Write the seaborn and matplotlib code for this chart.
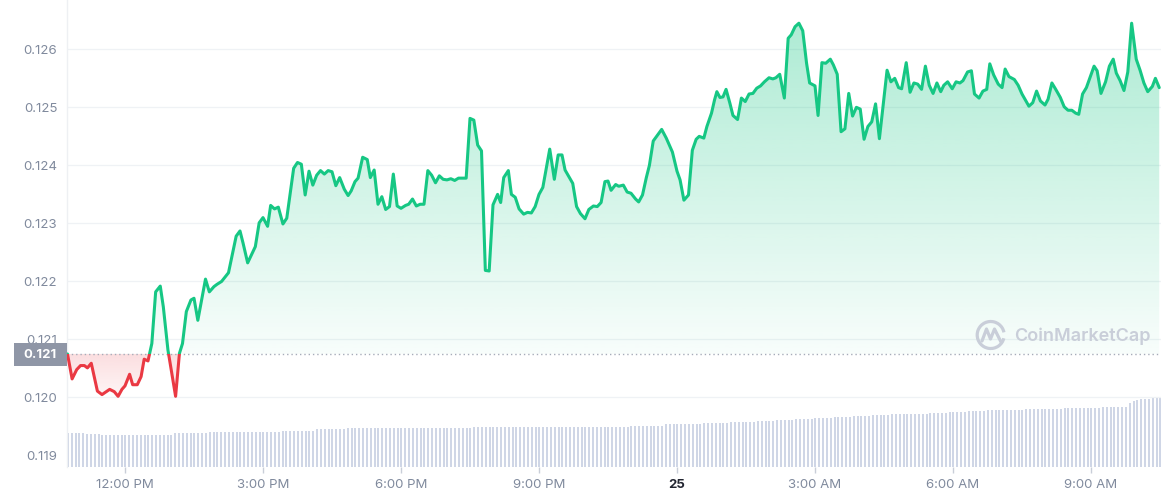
import numpy as np
import pandas as pd
import matplotlib
matplotlib.use("Agg")
import matplotlib.pyplot as plt
import seaborn as sns
from matplotlib.path import Path
from matplotlib.patches import Rectangle, Arc
from matplotlib.lines import Line2D
from matplotlib.colors import to_rgb

# ---------------- data ----------------
# minutes relative to 12:00 PM (Oct 24)
times = [-75, -69, -63, -58, -53, -49, -44, -36, -30, -20, -14, -9, -4, 0, 6, 10, 16, 21, 25, 30,
         35, 40, 46, 50, 56, 66, 71, 75, 80, 86, 90, 95, 100, 105, 110, 116, 120, 126, 135, 145,
         150, 154, 160, 170, 175, 180, 186, 190, 195, 200, 206, 211, 220, 225, 230, 235, 240, 245, 250, 255,
         260, 265, 270, 275, 280, 286, 291, 295, 300, 304, 310, 316, 320, 325, 330, 335, 340, 345, 350, 355,
         360, 366, 370, 375, 380, 385, 390, 395, 400, 405, 410, 415, 420, 425, 430, 435, 445, 450, 455, 460,
         465, 470, 475, 480, 486, 490, 494, 500, 504, 509, 514, 520, 525, 530, 535, 540, 545, 554, 560, 565,
         570, 574, 584, 589, 594, 600, 605, 611, 616, 621, 626, 630, 634, 640, 644, 650, 655, 660, 666, 670,
         675, 680, 684, 689, 700, 706, 714, 720, 724, 729, 735, 740, 745, 749, 755, 759, 765, 769, 772, 776,
         780, 784, 789, 793, 799, 804, 809, 814, 819, 824, 829, 834, 840, 845, 849, 854, 860, 865, 869, 874,
         879, 884, 889, 893, 900, 904, 909, 914, 920, 924, 929, 934, 939, 944, 949, 954, 959, 964, 969, 974,
         979, 984, 994, 999, 1004, 1009, 1013, 1019, 1024, 1029, 1034, 1039, 1044, 1049, 1054, 1059, 1064, 1068, 1073, 1079,
         1084, 1089, 1093, 1099, 1104, 1108, 1114, 1119, 1124, 1128, 1133, 1139, 1144, 1148, 1153, 1160, 1165, 1170, 1179, 1184,
         1189, 1194, 1200, 1204, 1209, 1214, 1220, 1225, 1230, 1235, 1240, 1244, 1249, 1254, 1264, 1268, 1273, 1279, 1284, 1289,
         1293, 1298, 1303, 1308, 1313, 1319, 1324, 1329, 1334, 1340, 1344, 1349]

prices = [0.12075, 0.12032, 0.12048, 0.12055, 0.12055, 0.12051, 0.12059, 0.12011, 0.12005, 0.12014,
          0.12010, 0.12002, 0.12014, 0.12020, 0.12040, 0.12022, 0.12022, 0.12036, 0.12066, 0.12063,
          0.12093, 0.12182, 0.12192, 0.12156, 0.12082, 0.12002, 0.12076, 0.12093, 0.12148, 0.12168,
          0.12171, 0.12133, 0.12169, 0.12204, 0.12182, 0.12191, 0.12195, 0.12200, 0.12215, 0.12278,
          0.12287, 0.12266, 0.12232, 0.12260, 0.12301, 0.12310, 0.12295, 0.12331, 0.12325, 0.12328,
          0.12299, 0.12309, 0.12395, 0.12405, 0.12402, 0.12349, 0.12390, 0.12366, 0.12383, 0.12391,
          0.12385, 0.12391, 0.12389, 0.12365, 0.12379, 0.12359, 0.12348, 0.12356, 0.12372, 0.12378,
          0.12414, 0.12410, 0.12379, 0.12392, 0.12333, 0.12346, 0.12324, 0.12329, 0.12385, 0.12330,
          0.12326, 0.12331, 0.12333, 0.12342, 0.12330, 0.12333, 0.12333, 0.12391, 0.12383, 0.12370,
          0.12382, 0.12376, 0.12375, 0.12377, 0.12374, 0.12378, 0.12378, 0.12481, 0.12478, 0.12435,
          0.12425, 0.12219, 0.12218, 0.12332, 0.12350, 0.12336, 0.12379, 0.12391, 0.12350, 0.12345,
          0.12325, 0.12316, 0.12319, 0.12318, 0.12329, 0.12350, 0.12362, 0.12428, 0.12376, 0.12418,
          0.12418, 0.12392, 0.12369, 0.12329, 0.12317, 0.12308, 0.12324, 0.12330, 0.12329, 0.12336,
          0.12372, 0.12373, 0.12357, 0.12367, 0.12364, 0.12366, 0.12354, 0.12352, 0.12342, 0.12337,
          0.12349, 0.12379, 0.12400, 0.12442, 0.12462, 0.12447, 0.12423, 0.12390, 0.12375, 0.12340,
          0.12349, 0.12426, 0.12445, 0.12450, 0.12447, 0.12467, 0.12490, 0.12513, 0.12527, 0.12517,
          0.12518, 0.12531, 0.12507, 0.12486, 0.12479, 0.12516, 0.12510, 0.12523, 0.12524, 0.12533,
          0.12537, 0.12544, 0.12551, 0.12549, 0.12551, 0.12557, 0.12516, 0.12619, 0.12625, 0.12639,
          0.12645, 0.12632, 0.12576, 0.12542, 0.12537, 0.12486, 0.12577, 0.12576, 0.12583, 0.12573,
          0.12557, 0.12458, 0.12463, 0.12524, 0.12485, 0.12500, 0.12497, 0.12445, 0.12467, 0.12475,
          0.12506, 0.12446, 0.12564, 0.12544, 0.12550, 0.12534, 0.12532, 0.12577, 0.12526, 0.12542,
          0.12540, 0.12531, 0.12571, 0.12538, 0.12524, 0.12542, 0.12527, 0.12538, 0.12544, 0.12532,
          0.12544, 0.12542, 0.12546, 0.12561, 0.12563, 0.12523, 0.12516, 0.12528, 0.12531, 0.12575,
          0.12556, 0.12540, 0.12534, 0.12566, 0.12553, 0.12548, 0.12538, 0.12523, 0.12502, 0.12508,
          0.12528, 0.12511, 0.12504, 0.12514, 0.12542, 0.12531, 0.12517, 0.12501, 0.12495, 0.12495,
          0.12490, 0.12488, 0.12523, 0.12534, 0.12571, 0.12563, 0.12524, 0.12544, 0.12571, 0.12583,
          0.12559, 0.12546, 0.12529, 0.12561, 0.12645, 0.12583, 0.12564, 0.12542, 0.12527, 0.12536,
          0.12550, 0.12534]

# 24h volume per 5-minute bar (arbitrary units, M)
volume = [34.3, 34.3, 34.3, 34.3, 34.3, 33.0, 33.0, 33.0, 33.0, 31.7,
          31.7, 31.7, 31.7, 31.7, 31.7, 31.7, 31.7, 31.7, 31.7, 31.7,
          31.7, 31.7, 31.7, 31.7, 31.7, 31.7, 31.7, 31.7, 33.7, 33.7,
          33.7, 33.7, 33.7, 33.7, 33.7, 33.7, 33.7, 35.0, 35.0, 35.0,
          35.0, 35.0, 35.0, 35.0, 35.0, 35.0, 35.0, 35.0, 35.0, 35.0,
          35.0, 35.0, 35.0, 35.0, 35.0, 35.0, 36.3, 36.3, 36.3, 36.3,
          36.3, 36.3, 36.3, 36.3, 36.3, 37.7, 37.7, 37.7, 37.7, 37.7,
          37.7, 37.7, 37.7, 38.7, 38.7, 38.7, 38.7, 38.7, 38.7, 38.7,
          38.7, 38.7, 38.7, 38.7, 38.7, 38.7, 38.7, 38.7, 38.7, 38.7,
          38.7, 38.7, 38.7, 38.7, 38.7, 38.7, 38.7, 38.7, 38.7, 38.7,
          38.7, 38.7, 38.7, 38.7, 38.7, 38.7, 39.7, 39.7, 39.7, 39.7,
          39.7, 39.7, 39.7, 39.7, 39.7, 39.7, 39.7, 39.7, 39.7, 39.7,
          39.7, 39.7, 39.7, 39.7, 39.7, 39.7, 39.7, 39.7, 39.7, 40.3,
          40.3, 40.3, 40.3, 40.3, 40.3, 40.3, 40.3, 40.3, 40.3, 40.3,
          40.3, 40.3, 40.3, 40.3, 40.3, 40.3, 40.3, 41.3, 41.3, 41.3,
          41.3, 41.3, 41.3, 41.3, 41.3, 41.3, 42.7, 42.7, 42.7, 42.7,
          42.7, 42.7, 42.7, 42.7, 42.7, 42.7, 43.7, 43.7, 43.7, 43.7,
          43.7, 43.7, 43.7, 44.7, 44.7, 44.7, 44.7, 44.7, 44.7, 44.7,
          45.7, 45.7, 45.7, 45.7, 45.7, 46.7, 46.7, 46.7, 46.7, 46.7,
          47.7, 47.7, 47.7, 47.7, 47.7, 48.7, 48.7, 48.7, 48.7, 48.7,
          49.7, 49.7, 49.7, 49.7, 49.7, 51.0, 51.0, 51.0, 51.0, 51.0,
          52.0, 52.0, 52.0, 52.0, 52.0, 52.7, 52.7, 52.7, 52.7, 52.7,
          53.3, 53.3, 53.3, 53.3, 53.3, 54.0, 54.0, 54.0, 54.0, 54.0,
          54.7, 54.7, 54.7, 54.7, 54.7, 55.7, 55.7, 55.7, 55.7, 55.7,
          56.7, 56.7, 56.7, 56.7, 56.7, 57.3, 57.3, 57.3, 57.3, 57.3,
          57.7, 57.7, 57.7, 57.7, 57.7, 58.0, 58.0, 58.0, 58.0, 58.0,
          58.7, 58.7, 58.7, 58.7, 58.7, 59.3, 59.3, 59.3, 59.3, 59.3,
          59.7, 59.7, 59.7, 59.7, 59.7, 60.3, 60.3, 63.7, 66.0, 67.3,
          67.7, 68.0, 68.3, 68.7, 69.0, 69.3]

tick_minutes = [0, 180, 360, 540, 720, 900, 1080, 1260]
tick_labels = ["12:00 PM", "3:00 PM", "6:00 PM", "9:00 PM", "25", "3:00 AM", "6:00 AM", "9:00 AM"]
ytick_vals = [0.119, 0.120, 0.121, 0.122, 0.123, 0.124, 0.125, 0.126]
ytick_labels = ["0.119", "0.120", "0.121", "0.122", "0.123", "0.124", "0.125", "0.126"]

# ---------------- style ----------------
sns.set_theme(style="white")
plt.rcParams["font.family"] = ["Inter", "DejaVu Sans"]

GREEN = "#16c784"
RED = "#ea3943"
GRAY_TXT = "#808a9d"

W, H = 1161, 500
fig = plt.figure(figsize=(W / 100, H / 100), dpi=100)
pos = [67 / W, 1 - 467 / H, (1161 - 67) / W, 467 / H]
axv = fig.add_axes(pos)
ax = fig.add_axes(pos, sharex=axv)
ax.patch.set_alpha(0)

XMIN, XMAX = -75.65, 1351.3
YMIN, YMAX = 0.118802, 0.12685

# volume bars
vol_t = -74.5 + 5 * np.arange(len(volume))
axv.bar(vol_t, volume, width=2.6, color="#cfd6e6", linewidth=0)
axv.set_ylim(0, 467)
axv.set_axis_off()

t = np.array(times, dtype=float)
p = np.array(prices)
base = prices[0]

# grid
for v in ytick_vals[1:]:
    ax.axhline(v, color="#eff2f5", lw=0.9, zorder=0)

# gradient fills
def gradient_fill(mask, color, y0, y1, a0, a1):
    coll = ax.fill_between(t, p, base, where=mask, interpolate=True, color="none", lw=0)
    path = Path.make_compound_path(*coll.get_paths())
    coll.remove()
    grad = np.zeros((256, 1, 4))
    grad[..., :3] = to_rgb(color)
    grad[:, 0, 3] = np.linspace(a0, a1, 256)
    im = ax.imshow(grad, extent=[XMIN, XMAX, y0, y1], origin="lower", aspect="auto",
                   interpolation="bilinear", zorder=1)
    im.set_clip_path(path, transform=ax.transData)

gradient_fill(p >= base, GREEN, base, YMAX, 0.03, 0.37)
gradient_fill(p <= base, RED, 0.1199, base, 0.03, 0.17)

# baseline
ax.axhline(base, color="#a6acb9", lw=1.0, ls=(0, (1, 2.1)), zorder=2)

# price line via seaborn, split colors around the baseline
df = pd.DataFrame({"t": times, "p": prices})
sns.lineplot(data=df, x="t", y="p", ax=ax, color=GREEN, lw=2.2, estimator=None, zorder=3)
line_g = ax.lines[-1]
line_g.set_clip_path(Rectangle((XMIN, base), XMAX - XMIN, 1.0, transform=ax.transData))
sns.lineplot(data=df, x="t", y="p", ax=ax, color=RED, lw=2.2, estimator=None, zorder=3)
line_r = ax.lines[-1]
line_r.set_clip_path(Rectangle((XMIN, base - 1.0), XMAX - XMIN, 1.0, transform=ax.transData))
line_g.set_solid_joinstyle("round")
line_r.set_solid_joinstyle("round")

ax.set_xlim(XMIN, XMAX)
ax.set_ylim(YMIN, YMAX)
ax.set_xlabel("")
ax.set_ylabel("")

ax.set_yticks(ytick_vals)
ax.set_yticklabels(ytick_labels)
ax.set_xticks(tick_minutes)
ax.set_xticklabels(tick_labels)
ax.tick_params(axis="y", length=0, pad=7, labelcolor=GRAY_TXT, labelsize=9.5)
ax.tick_params(axis="x", length=4, width=1, color="#c9ced8", pad=5, labelcolor=GRAY_TXT,
               labelsize=9.5, bottom=True)
lbl = ax.get_xticklabels()[4]
lbl.set_fontweight("bold")
lbl.set_color("#222531")

for s in ax.spines.values():
    s.set_visible(False)
ax.spines["left"].set_visible(True)
ax.spines["left"].set_color("#eef0f3")
ax.spines["left"].set_linewidth(1.0)

# baseline badge
def fx(x):
    return x / W

def fy(y):
    return 1 - y / H

fig.patches.append(Rectangle((fx(14), fy(366)), 53 / W, 23 / H, transform=fig.transFigure,
                             facecolor="#8f96a6", edgecolor="none", zorder=5))
fig.text(fx(40.5), fy(355), "0.121", color="white", fontweight="bold", fontsize=9.5,
         ha="center", va="center", zorder=6)

# watermark
WM = "#c9ced9"
fig.patches.append(Arc((fx(990.7), fy(335)), 27 / W, 27 / H, theta1=25, theta2=330,
                       transform=fig.transFigure, color=WM, lw=2.3, zorder=5))
fig.lines.append(Line2D([fx(982), fx(986.5), fx(990.5), fx(994.5), fx(1001)],
                        [fy(341), fy(329), fy(339), fy(329), fy(342)],
                        transform=fig.transFigure, color=WM, lw=2.3, zorder=5,
                        solid_joinstyle="round", solid_capstyle="round"))
fig.text(fx(1014), fy(336), "CoinMarketCap", color=WM, fontsize=13, fontweight="semibold",
         ha="left", va="center", zorder=6)

fig.savefig("out.png", dpi=100)
